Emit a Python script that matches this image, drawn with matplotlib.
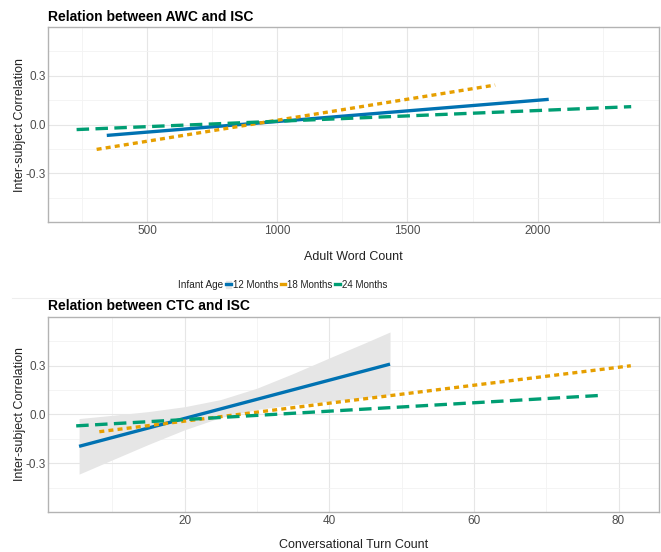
#!/usr/bin/env python3
"""Relation between AWC / CTC and inter-subject correlation, by infant age."""

import matplotlib
matplotlib.use("Agg")
import matplotlib.pyplot as plt
from matplotlib.lines import Line2D
from matplotlib.patches import Patch

plt.rcParams["font.family"] = ["Liberation Sans", "DejaVu Sans"]
plt.rcParams["lines.scale_dashes"] = False

AGES = ["12 Months", "18 Months", "24 Months"]
COLORS = ["#0072B2", "#E69F00", "#009E73"]
DASHES = [None, (3.6, 3.0), (9.0, 4.6)]

# fitted lines: (x start, x end), (y start, y end)
AWC_X = [(344, 2043), (305, 1837), (228, 2360)]
AWC_Y = [(-0.067, 0.155), (-0.153, 0.243), (-0.031, 0.110)]
CTC_X = [(5.4, 48.4), (8.2, 81.7), (5.0, 77.7)]
CTC_Y = [(-0.196, 0.310), (-0.106, 0.300), (-0.070, 0.118)]

# confidence band of the 12 month CTC fit
BAND_X = [5.4, 10, 15, 20, 25, 30, 35, 40, 45, 48.4]
BAND_LO = [-0.367, -0.279, -0.184, -0.094, -0.018, 0.031, 0.060, 0.082, 0.104, 0.122]
BAND_HI = [-0.025, -0.005, 0.018, 0.048, 0.092, 0.162, 0.252, 0.348, 0.442, 0.508]

TICK_GREY = "#4D4D4D"


def style_axes(ax, xlim, xmajor, xminor):
    ax.set_xlim(*xlim)
    ax.set_ylim(-0.6, 0.6)
    ax.set_xticks(xmajor)
    ax.set_xticks(xminor, minor=True)
    ax.set_yticks([-0.3, 0.0, 0.3])
    ax.set_yticks([-0.45, -0.15, 0.15, 0.45], minor=True)
    ax.set_yticklabels(["-0.3", "0.0", "0.3"])
    ax.grid(which="major", color="#E6E6E6", lw=0.8)
    ax.grid(which="minor", color="#F3F3F3", lw=0.6)
    ax.set_axisbelow(True)
    ax.tick_params(which="both", length=0, pad=2.5, labelsize=8.5,
                   labelcolor=TICK_GREY)
    ax.tick_params(axis="y", pad=1.5)
    for sp in ax.spines.values():
        sp.set_color("#B3B3B3")
        sp.set_linewidth(1.0)
    ax.set_ylabel("Inter-subject Correlation", fontsize=9, color="#222222",
                  labelpad=0)


def draw_lines(ax, xs, ys):
    for (x, y, c, d) in zip(xs, ys, COLORS, DASHES):
        line, = ax.plot(x, y, color=c, lw=2.4, solid_capstyle="butt",
                        dash_capstyle="butt")
        if d is not None:
            line.set_dashes(d)


def main():
    fig = plt.figure(figsize=(6.61, 5.52), dpi=100)

    ax1 = fig.add_axes([0.0726, 0.5978, 0.9244, 0.3532])
    style_axes(ax1, (118, 2467), [500, 1000, 1500, 2000],
               [250, 750, 1250, 1750, 2250])
    draw_lines(ax1, AWC_X, AWC_Y)
    ax1.set_xlabel("Adult Word Count", fontsize=9, color="#222222",
                   labelpad=10)
    ax1.set_title("Relation between AWC and ISC", loc="left",
                  fontsize=10, fontweight="bold", pad=4)

    ax2 = fig.add_axes([0.0726, 0.0725, 0.9244, 0.3532])
    style_axes(ax2, (1.1, 85.6), [20, 40, 60, 80], [10, 30, 50, 70])
    ax2.fill_between(BAND_X, BAND_LO, BAND_HI, color="#E6E6E6", lw=0)
    draw_lines(ax2, CTC_X, CTC_Y)
    ax2.set_xlabel("Conversational Turn Count", fontsize=9, color="#222222",
                   labelpad=8)
    ax2.set_title("Relation between CTC and ISC", loc="left",
                  fontsize=10, fontweight="bold", pad=5)

    # faint background border of the lower panel
    fig.add_artist(Line2D([12 / 661, 1.0], [1 - 298 / 552, 1 - 298 / 552],
                          color="#EEEEEE", lw=0.8))

    # legend
    handles = []
    for i, c in enumerate(COLORS):
        ln = Line2D([], [], color=c, lw=2.4)
        if i == 0:
            handles.append((Patch(color="#E6E6E6"), ln))
        else:
            handles.append(ln)
    fig.text(178 / 661, 1 - 285 / 552, "Infant Age", fontsize=7.2,
             color="#222222", va="center", ha="left")
    fig.legend(handles, AGES, ncol=3, loc="center left",
               bbox_to_anchor=(226 / 661, 1 - 285 / 552), frameon=False,
               fontsize=7.0, handlelength=0.5, handleheight=0.8,
               handletextpad=0.2, columnspacing=0.25, borderpad=0,
               borderaxespad=0, labelcolor="#222222")

    fig.savefig("out.png", dpi=100)


if __name__ == "__main__":
    main()
